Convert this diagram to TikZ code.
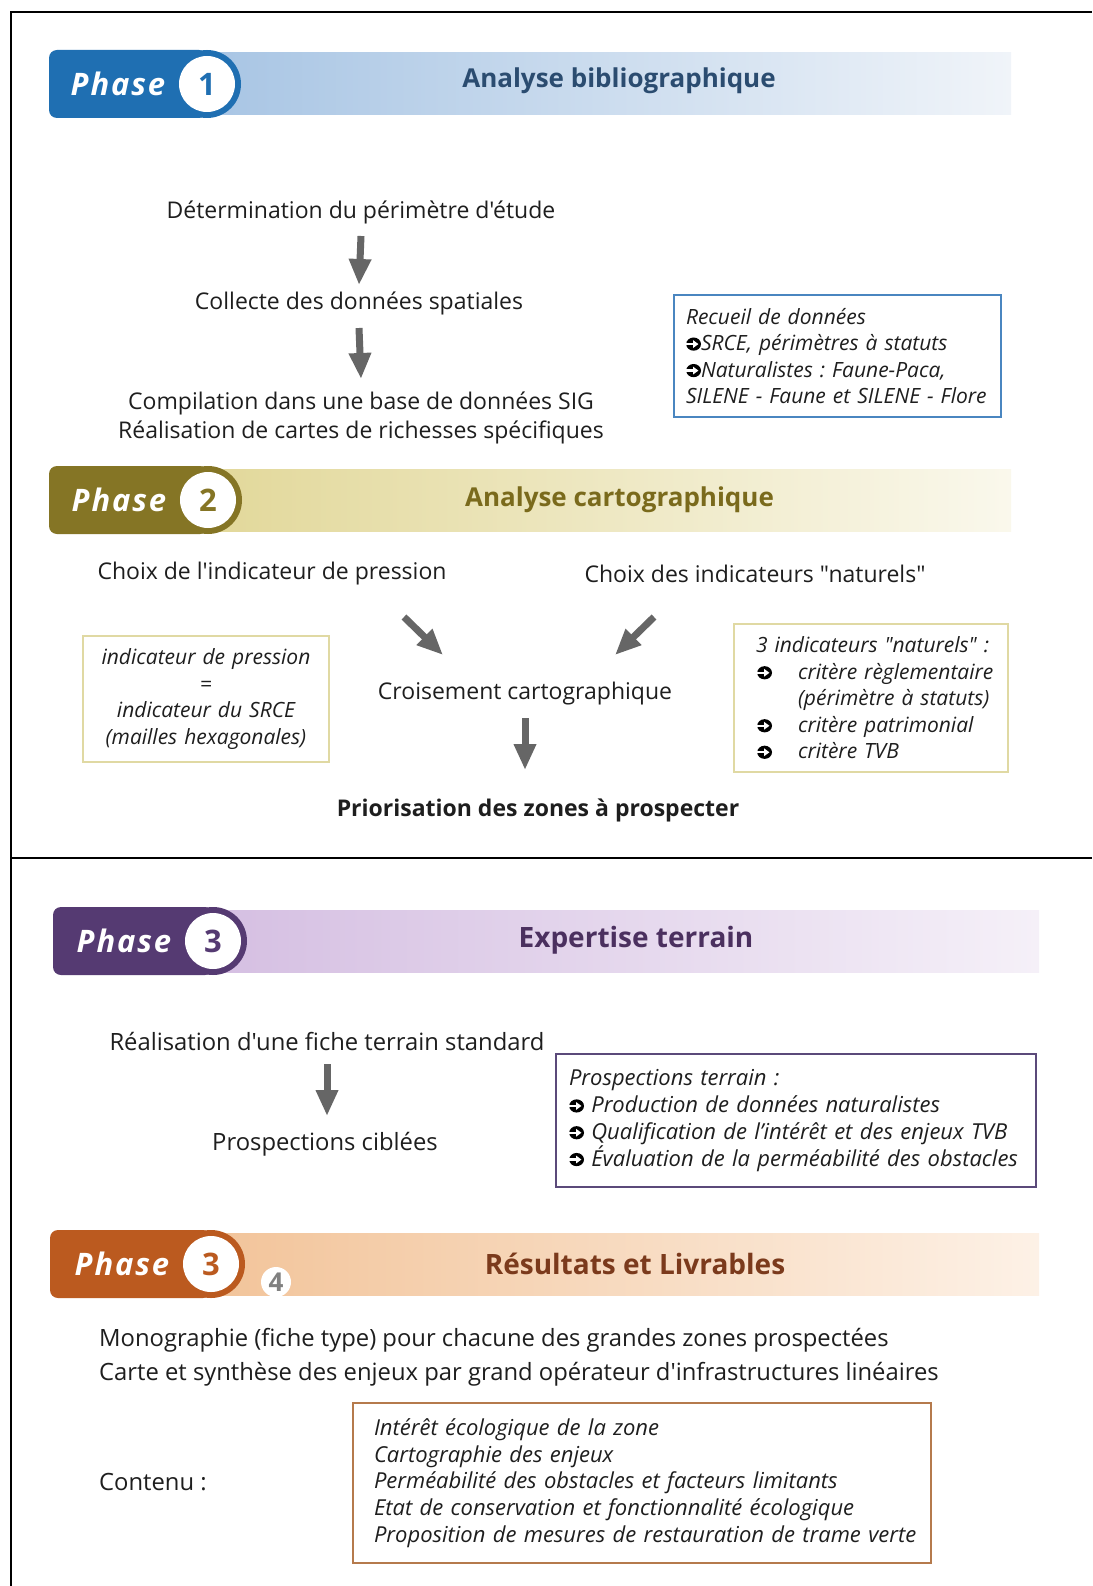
\documentclass[tikz,border=0pt]{standalone}
\usepackage{fontspec}
\setmainfont{Open Sans}[Ligatures=TeXOff]
\usetikzlibrary{arrows.meta}
\frenchspacing

\definecolor{ink}{HTML}{1E1E1E}
\definecolor{arrowgray}{HTML}{666666}
\definecolor{pAdark}{HTML}{1F6FB2}
\definecolor{pAband}{HTML}{A8C5E4}
\definecolor{pApale}{HTML}{F0F4F9}
\definecolor{pAtitle}{HTML}{2B4C70}
\definecolor{pBdark}{HTML}{857525}
\definecolor{pBband}{HTML}{E2D89A}
\definecolor{pBpale}{HTML}{FAF8EC}
\definecolor{pBtitle}{HTML}{7A6A1C}
\definecolor{pCdark}{HTML}{553A72}
\definecolor{pCband}{HTML}{D5BFE2}
\definecolor{pCpale}{HTML}{F5F0F8}
\definecolor{pCtitle}{HTML}{4B305F}
\definecolor{pDdark}{HTML}{BB5A1F}
\definecolor{pDband}{HTML}{F2C49A}
\definecolor{pDpale}{HTML}{FDF1E6}
\definecolor{pDtitle}{HTML}{7B3A1C}
\definecolor{boxblue}{HTML}{4A86C0}
\definecolor{boxolive}{HTML}{E0D9A3}
\definecolor{boxpurple}{HTML}{5B4A7A}
\definecolor{boxbrown}{HTML}{B57A4C}

% puce fleche
\newsavebox{\pucebox}
\newcommand{\puce}{\usebox{\pucebox}}
\newcommand{\pucetab}{\makebox[53pt][l]{\hspace{12pt}\puce}}

% bandeau de phase : #1 prefixe, #2 y centre, #3 x gauche, #4 x droite, #5 x cercle, #6 numero, #7 titre, #8 y titre
\newcommand{\phasebanner}[8]{%
  \shade[left color=#1band, right color=#1pale] (#5,#2-31) rectangle (#4,#2+31);
  \fill[#1dark, rounded corners=8pt] (#3,#2-34) rectangle (#5,#2+34);
  \fill[#1dark] (#5,#2) circle[radius=34];
  \fill[white] (#5,#2) circle[radius=28];
  \node[phasetxt] (#1phase) at (#5-89,#2) {Phase};
  \node[phasenum, text=#1dark] (#1num) at (#5,#2) {#6};
  \node[titre, text=#1title] (#1titre) at ({(#5+#4)/2+10},#8) {#7};
}

\tikzset{
  texte/.style={font=\fontsize{23}{29.5}\selectfont, text=ink, inner sep=0pt, align=center},
  texteb/.style={texte, font=\fontsize{23.8}{30}\selectfont},
  titre/.style={font=\fontsize{26}{30}\selectfont\bfseries, inner sep=0pt},
  phasetxt/.style={font=\fontsize{31}{32}\selectfont\bfseries\itshape\addfontfeatures{LetterSpace=6}, text=white, inner sep=0pt},
  phasenum/.style={font=\fontsize{31}{32}\selectfont\bfseries, inner sep=0pt},
  boite/.style={draw, line width=1.5pt, text=ink, font=\fontsize{21}{26.5}\selectfont\itshape, inner ysep=0pt},
  boiteb/.style={boite, font=\fontsize{22}{26.8}\selectfont\itshape},
  fleche/.style={draw=arrowgray, line width=7pt, -{Triangle[length=26pt,width=21pt]}},
}

\begin{document}
\sbox{\pucebox}{\begin{pgfpicture}
  \pgfsetfillcolor{black}
  \pgfpathellipse{\pgfpoint{0pt}{7pt}}{\pgfpoint{7.4pt}{0pt}}{\pgfpoint{0pt}{6.6pt}}
  \pgfusepath{fill}
  \pgfsetfillcolor{white}
  \pgfpathrectangle{\pgfpoint{-7.6pt}{5.9pt}}{\pgfpoint{8.2pt}{2.2pt}}
  \pgfusepath{fill}
  \pgfpathmoveto{\pgfpoint{-0.5pt}{3.1pt}}
  \pgfpathlineto{\pgfpoint{4.8pt}{7pt}}
  \pgfpathlineto{\pgfpoint{-0.5pt}{10.9pt}}
  \pgfpathclose
  \pgfusepath{fill}
\end{pgfpicture}}
\begin{tikzpicture}[x=1pt,y=-1pt]
\useasboundingbox (0,0) rectangle (1092,1586);
\fill[white] (0,0) rectangle (1092,1586);

% cadre
\draw[line width=2pt] (11,1586) -- (11,12) -- (1092,12);
\draw[line width=2pt] (11,858) -- (1092,858);

% phase 1
\phasebanner{pA}{84}{49}{1011}{207}{1}{Analyse bibliographique}{81}

\node[texte] (det) at (361,212) {Détermination du périmètre d'étude};
\node[texte] (coll) at (359,303) {Collecte des données spatiales};
\node[texte] (comp) at (361,418) {Compilation dans une base de données SIG\\Réalisation de cartes de richesses spécifiques};
\draw[fleche] ([yshift=-24pt]det.center) -- ([yshift=18pt]coll.center);
\draw[fleche] ([yshift=-25pt]coll.center) -- ([yshift=39pt]comp.center);

\node[boite, draw=boxblue, align=left, minimum width=327pt, minimum height=122pt, text width=303pt, inner xsep=12pt] (recueil) at (837.5,356)
  {Recueil de données\\\puce SRCE, périmètres à statuts\\\puce Naturalistes : Faune-Paca,\\SILENE - Faune et SILENE - Flore};

% phase 2
\phasebanner{pB}{500}{49}{1011}{208}{2}{Analyse cartographique}{500}

\node[texte] (pression) at (272,574) {Choix de l'indicateur de pression};
\node[texte] (naturels) at (755,574) {Choix des indicateurs "naturels"};
\node[texte] (croi) at (525,694) {Croisement cartographique};
\node[texte, font=\fontsize{23}{30}\selectfont\bfseries] (prio) at (538,810) {Priorisation des zones à prospecter};
\draw[fleche] ([shift={(132pt,-43pt)}]pression.center) -- ([shift={(-82pt,39pt)}]croi.center);
\draw[fleche] ([shift={(-101pt,-43pt)}]naturels.center) -- ([shift={(90pt,39pt)}]croi.center);
\draw[fleche] ([yshift=-24pt]croi.center) -- ([shift={(-13pt,40pt)}]prio.center);

\node[boite, draw=boxolive, align=center, minimum width=246pt, minimum height=126pt, text width=226pt, inner xsep=10pt] (indpres) at (206,699)
  {indicateur de pression\\=\\indicateur du SRCE\\(mailles hexagonales)};
\node[boite, draw=boxolive, align=left, minimum width=274pt, minimum height=148pt, text width=252pt, inner xsep=11pt] (indnat) at (871,698)
  {\hspace{11pt}3 indicateurs "naturels" :\\\pucetab critère règlementaire\\\hspace{53pt}(périmètre à statuts)\\\pucetab critère patrimonial\\\pucetab critère TVB};

% phase 3
\phasebanner{pC}{941}{53}{1039}{213}{3}{\fontsize{28}{30}\selectfont Expertise terrain}{940}

\node[texteb] (fiche) at (327,1041) {Réalisation d'une fiche terrain standard};
\node[texteb] (cibl) at (325,1144) {Prospections ciblées};
\draw[fleche] ([yshift=-23pt]fiche.center) -- ([shift={(2pt,28pt)}]cibl.center);

\node[boiteb, draw=boxpurple, align=left, minimum width=480pt, minimum height=133pt, text width=454pt, inner xsep=13pt] (prosp) at (796,1120.5)
  {Prospections terrain :\\\puce\ Production de données naturalistes\\\puce\ Qualification de l’intérêt et des enjeux TVB\\\puce\ Évaluation de la perméabilité des obstacles};

% phase 4
\phasebanner{pD}{1264}{50}{1039}{211}{3}{\fontsize{28}{30}\selectfont Résultats et Livrables}{1264}
\node[circle, fill=white, inner sep=0pt, minimum size=30pt, text=gray, font=\fontsize{26}{26}\selectfont\bfseries] (quatre) at (276,1282) {4};

\node[texteb, anchor=west] (mono) at (99,1340) {Monographie (fiche type) pour chacune des grandes zones prospectées};
\node[texteb, anchor=west] (carte) at (99,1374) {Carte et synthèse des enjeux par grand opérateur d'infrastructures linéaires};
\node[texteb, anchor=west] (contenu) at (99,1482) {Contenu :};

\node[boiteb, draw=boxbrown, align=left, minimum width=578pt, minimum height=160pt, text width=558pt, inner xsep=10pt] (livr) at (642,1483)
  {\hspace{11pt}Intérêt écologique de la zone\\\hspace{11pt}Cartographie des enjeux\\\hspace{11pt}Perméabilité des obstacles et facteurs limitants\\\hspace{11pt}Etat de conservation et fonctionnalité écologique\\\hspace{11pt}Proposition de mesures de restauration de trame verte};

\end{tikzpicture}
\end{document}
